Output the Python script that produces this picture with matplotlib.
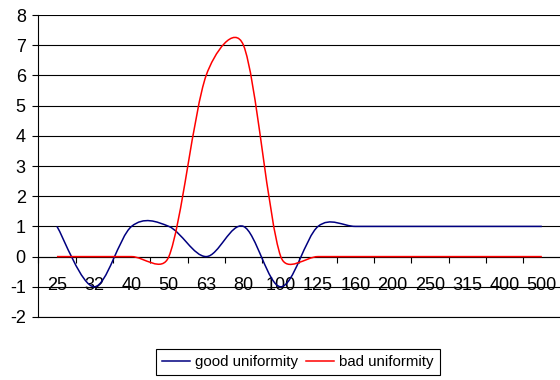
import numpy as np
import matplotlib
matplotlib.use("Agg")
import matplotlib.pyplot as plt
from matplotlib.path import Path
from matplotlib.patches import PathPatch
from matplotlib.lines import Line2D

plt.rcParams['font.family'] = ['Liberation Sans', 'DejaVu Sans']
plt.rcParams['axes.unicode_minus'] = False

freqs = ['25', '32', '40', '50', '63', '80', '100', '125', '160', '200',
         '250', '315', '400', '500']
good = [1, -1, 1, 1, 0, 1, -1, 1, 1, 1, 1, 1, 1, 1]
bad = [0, 0, 0, 0, 6.0, 7.0, 0, 0, 0, 0, 0, 0, 0, 0]

fig = plt.figure(figsize=(5.6, 3.8), dpi=100)
ax = fig.add_axes([0.0684, 0.1658, 0.9325, 0.7947])


def smooth_path(xs, ys, sx, sy):
    # spreadsheet-style smoothed line: cubic bezier per segment, control
    # arms 1/6 of the neighbour chord, capped at half the segment length
    p = np.column_stack([np.asarray(xs, float) * sx, np.asarray(ys, float) * sy])
    n = len(p)
    verts = [p[0]]
    codes = [Path.MOVETO]
    for i in range(n - 1):
        p0 = p[max(i - 1, 0)]
        p1 = p[i]
        p2 = p[i + 1]
        p3 = p[min(i + 2, n - 1)]
        d12 = np.hypot(*(p2 - p1))
        d02 = np.hypot(*(p2 - p0))
        d13 = np.hypot(*(p3 - p1))
        f1 = 1 / 6 if d02 / 6 < d12 / 2 or d02 == 0 else d12 / 2 / d02
        f2 = 1 / 6 if d13 / 6 < d12 / 2 or d13 == 0 else d12 / 2 / d13
        c1 = p1 + (p2 - p0) * f1
        c2 = p2 - (p3 - p1) * f2
        verts += [c1, c2, p2]
        codes += [Path.CURVE4] * 3
    verts = np.array(verts) / [sx, sy]
    return Path(verts, codes)


x = np.arange(len(freqs))
# pixels per unit on each axis, used for the smoothing geometry
sx, sy = 37.3, 30.2
for vals, col in [(good, '#000080'), (bad, '#ff0000')]:
    ax.add_patch(PathPatch(smooth_path(x, vals, sx, sy), fill=False,
                           edgecolor=col, lw=1.1, zorder=3))

ax.set_xlim(-0.5, len(freqs) - 0.5)
ax.set_ylim(-2, 8)
ax.set_yticks(range(-2, 9))
ax.yaxis.grid(True, color='black', lw=0.8)
ax.axhline(-2, color='black', lw=0.8, clip_on=False, zorder=0)
ax.set_axisbelow(True)

# category axis crossing at zero, tick marks between categories
ax.spines['bottom'].set_position(('data', 0))
ax.spines['bottom'].set_linewidth(0.8)
ax.spines['left'].set_linewidth(0.8)
ax.spines['top'].set_visible(False)
ax.spines['right'].set_visible(False)
ax.set_xticks(np.arange(-0.5, len(freqs), 1.0))
ax.set_xticklabels([])
ax.set_xticks(x, minor=True)
ax.set_xticklabels(freqs, minor=True)
ax.tick_params(axis='x', which='major', direction='out', length=4, width=0.8)
ax.tick_params(axis='x', which='minor', length=0, pad=14.5, labelsize=13)
ax.tick_params(axis='y', direction='out', length=4, width=0.8, pad=5,
               labelsize=13)

handles = [Line2D([], [], color='#000080', lw=1.1),
           Line2D([], [], color='#ff0000', lw=1.1)]
leg = fig.legend(handles, ['good uniformity', 'bad uniformity'], ncol=2,
                 loc='upper center', bbox_to_anchor=(0.532, 1 - 349 / 380),
                 bbox_transform=fig.transFigure, fontsize=10.8, frameon=True,
                 fancybox=False, edgecolor='black', framealpha=1,
                 handlelength=1.87, handletextpad=0.33, columnspacing=0.53,
                 borderpad=0.4, borderaxespad=0)
leg.get_frame().set_linewidth(0.8)

fig.savefig('out.png', dpi=100)
